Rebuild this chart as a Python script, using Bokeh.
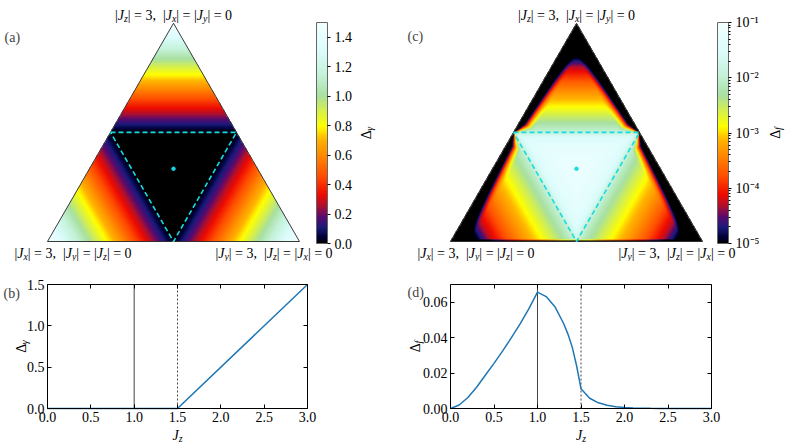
import math
import numpy as np
from bokeh.plotting import figure
from bokeh.layouts import column, row
from bokeh.models import (LinearColorMapper, LogColorMapper, ColorBar, FixedTicker,
                          PrintfTickFormatter, CustomJSTickFormatter, Label,
                          Range1d, LinearAxis)
from bokeh.embed import file_html
from bokeh.resources import INLINE

# ---------------- data ----------------
# panel (b): Delta_gamma along the |Jx| = |Jy| line
jz_b = [0.0, 1.5, 3.0]
dgamma_b = [0.0, 0.0, 1.5]
# panel (d): Delta_f along the |Jx| = |Jy| line
jz_d = [0.0, 0.1, 0.2, 0.3, 0.4, 0.5, 0.6, 0.7, 0.8, 0.9, 1.0, 1.1, 1.2, 1.3, 1.35,
        1.4, 1.45, 1.5, 1.6, 1.7, 1.8, 1.9, 2.0, 2.1, 2.2, 2.3, 2.4, 2.5, 2.6, 2.8, 3.0]
df_d = [0.0, 0.0020, 0.0062, 0.0120, 0.0188, 0.0255, 0.0325, 0.0400, 0.0478, 0.0562, 0.0657,
        0.0632, 0.0575, 0.048, 0.042, 0.0345, 0.024, 0.0112, 0.0058, 0.0032, 0.0018, 0.0010,
        0.0006, 0.00035, 0.0002, 0.0001, 0.00005, 0.000016, 0.000004, 0.0000002, 0.0]
crit_lines = [1.0, 1.5]
crit_dash = ["solid", "2 2"]
x_ticks = [0.0, 0.5, 1.0, 1.5, 2.0, 2.5, 3.0]
b_yticks = [0.0, 0.5, 1.0, 1.5]
d_yticks = [0.0, 0.02, 0.04, 0.06]
cb_a_ticks = [0.0, 0.2, 0.4, 0.6, 0.8, 1.0, 1.2, 1.4]
cb_c_ticks = [1e-5, 1e-4, 1e-3, 1e-2, 1e-1]
cb_c_minor = [k * 10.0 ** e for e in range(-5, -1) for k in range(2, 10)]
total_J = 3.0

# ---------------- style ----------------
FONT = "Liberation Serif"
PX = 84.0            # screen px per J unit in the triangles
TOP_H = 261
BOT_H = 183
TRI_BOTTOM = 20.0    # px from the bottom of the top row to the triangle base
CYAN = "#16dbe3"
BLUE = "#1f77b4"
EDGE_W = 0.236       # width (in J) of the dark band along the side edges in (c)
BOT_W = 0.03
XY_STRETCH = 0.88    # slower fall-off of (c) towards the two lower corners

cmap_pos = [0.0, 0.03, 0.07, 0.12, 0.17, 0.22, 0.30, 0.40, 0.47, 0.53, 0.60, 0.67, 0.76, 0.87, 1.0]
cmap_hex = ["#000000", "#00003c", "#1a1a7a", "#5a0a6e", "#b0102c", "#ee0a00", "#ff4a00",
            "#ff8a00", "#ffb400", "#ffff00", "#d6f04c", "#a8e0a0", "#c4f2d8", "#dcfcfc", "#f2ffff"]


def hex2rgb(h):
    return [int(h[i:i + 2], 16) for i in (1, 3, 5)]


rgb = np.array([hex2rgb(h) for h in cmap_hex], dtype=float)
tt = np.linspace(0, 1, 256)
PAL = ["#%02x%02x%02x" % tuple(int(round(np.interp(t, cmap_pos, rgb[:, c]))) for c in range(3))
       for t in tt]

# ---------------- text helpers ----------------
REG = {' ': 0.25, '|': 0.2, '=': 0.564, ',': 0.25, '.': 0.25, '(': 0.333, ')': 0.333,
       'a': 0.444, 'b': 0.5, 'c': 0.444, 'd': 0.5, 'Δ': 0.612}
ITA = {'J': 0.444, 'x': 0.444, 'y': 0.444, 'z': 0.389, 'f': 0.278, 'γ': 0.41}


def text_width(s, size, italic):
    tab = ITA if italic else REG
    return sum(tab.get(ch, 0.5) for ch in s) * size


def rich(p, x, y, pieces, size=14.0, align="center", angle=0.0, dx=0.0, dy=0.0):
    sub_size = size * 0.7
    drop = size * 0.2
    widths = [text_width(t, sub_size if sub else size, it) for t, it, sub in pieces]
    total = sum(widths)
    pos = {"left": 0.0, "center": -total / 2, "right": -total}[align]
    for (t, it, sub), w in zip(pieces, widths):
        fs = sub_size if sub else size
        lead = len(t) - len(t.lstrip(" "))
        s = t.strip(" ")
        adv = pos + lead * 0.25 * fs
        d = drop if sub else 0.0
        if angle == 0:
            xo, yo = dx + adv, dy - d
        else:
            xo, yo = dx + d, dy + adv
        p.add_layout(Label(x=x, y=y, x_offset=xo, y_offset=yo, text=s, angle=angle,
                           text_font=FONT, text_font_size="%.1fpx" % fs,
                           text_font_style="italic" if it else "normal",
                           text_color="black", text_align="left", text_baseline="alphabetic"))
        pos += w


def jlabel(a, b, c):
    # |J_a| = 3,  |J_b| = |J_c| = 0
    return [("|", 0, 0), ("J", 1, 0), (a, 1, 1), ("| = 3,", 0, 0), ("  |", 0, 0), ("J", 1, 0),
            (b, 1, 1), ("| = |", 0, 0), ("J", 1, 0), (c, 1, 1), ("| = 0", 0, 0)]


# ---------------- triangle fields ----------------
H = total_J * math.sqrt(3) / 2
NX, NY = 252, 218
gx = (np.arange(NX) + 0.5) / NX * total_J
gy = (np.arange(NY) + 0.5) / NY * H
X, Y = np.meshgrid(gx, gy)
Jz = Y / (H / total_J)
Jy = X - Jz / 2
Jx = total_J - Jy - Jz
inside = (Jx >= 0) & (Jy >= 0) & (Jz >= 0)
sortedJ = np.sort(np.stack([Jx, Jy, Jz]), axis=0)
Jmid = sortedJ[1]
Jmax = sortedJ[2]

gam = np.interp(Jmax, jz_b, dgamma_b)
gam[~inside] = np.nan

log_df = np.log10(np.maximum(np.array(df_d), 1e-9))
z_dom = Jz >= np.maximum(Jx, Jy)
J_eff = np.where(z_dom | (Jmax <= 1.5), Jmax, 1.5 + (Jmax - 1.5) * XY_STRETCH)
base = 10 ** np.interp(J_eff, jz_d, log_df)
m_side = np.minimum(Jx, Jy)
w_side = EDGE_W * np.clip(0.15 + (Jmax - Jmid) / 0.35, 0.0, 1.0)
s_side = 10 ** (-6 * np.clip(1 - m_side / w_side, 0, 1) ** 2)
s_bot = 10 ** (-6 * np.clip(1 - Jz / BOT_W, 0, 1) ** 2)
flux = np.maximum(base * s_side * s_bot, 1e-9)
flux[~inside] = np.nan


def bary(jx, jy, jz):
    return jy + jz / 2, jz * H / total_J


def tri_fig(width, left_px, letter, letter_dx, letter_base, field, mapper, ticker, formatter,
            cb_x, cb_lab_dx, cb_label, minor=False):
    x0 = -left_px / PX
    y0 = -TRI_BOTTOM / PX
    p = figure(width=width, height=TOP_H, x_range=Range1d(x0, x0 + width / PX),
               y_range=Range1d(y0, y0 + TOP_H / PX), output_backend="svg",
               toolbar_location=None, min_border=0, x_axis_location=None,
               y_axis_location=None, outline_line_color=None)
    p.xgrid.visible = False
    p.ygrid.visible = False
    p.image(image=[field], x=0, y=0, dw=total_J, dh=H, color_mapper=mapper)
    vs = [bary(3, 0, 0), bary(0, 3, 0), bary(0, 0, 3)]
    p.patch([v[0] for v in vs], [v[1] for v in vs], fill_alpha=0, line_color="#222222",
            line_width=0.9)
    mids = [bary(1.5, 0, 1.5), bary(0, 1.5, 1.5), bary(1.5, 1.5, 0), bary(1.5, 0, 1.5)]
    p.line([m[0] for m in mids], [m[1] for m in mids], line_color=CYAN, line_width=1.6,
           line_dash="5 3")
    cx, cy = bary(1, 1, 1)
    p.scatter([cx], [cy], size=3.5, color=CYAN)
    tx, ty = bary(0, 0, 3)
    rich(p, tx, ty, jlabel("z", "x", "y"), dy=8)
    lx, ly = bary(3, 0, 0)
    rich(p, lx, ly, jlabel("x", "y", "z"), dx=25.5, dy=-12)
    rx, ry = bary(0, 3, 0)
    rich(p, rx, ry, jlabel("y", "z", "x"), dx=-25.5, dy=-12)
    p.add_layout(Label(x=x0, y=y0 + TOP_H / PX, x_offset=letter_dx, y_offset=-letter_base,
                       text=letter, text_font=FONT, text_font_size="14px",
                       text_baseline="alphabetic"))
    cb_y = TRI_BOTTOM - 2
    cb = ColorBar(color_mapper=mapper, ticker=ticker, formatter=formatter,
                  location=(cb_x, cb_y), width=11, height=221, padding=0, margin=0,
                  major_label_text_font=FONT, major_label_text_font_size="14px",
                  major_label_text_color="black", label_standoff=4,
                  major_tick_in=0, major_tick_out=3, major_tick_line_color="black",
                  minor_tick_in=0, minor_tick_out=2 if minor else 0,
                  minor_tick_line_color="black" if minor else None,
                  bar_line_color="#666666", border_line_color=None, background_fill_alpha=0)
    p.add_layout(cb)
    lab_x = x0 + (cb_x + cb_lab_dx) / PX
    lab_y = y0 + (cb_y + 110.5) / PX
    rich(p, lab_x, lab_y, cb_label, angle=math.pi / 2)
    return p


mapper_a = LinearColorMapper(palette=PAL, low=0.0, high=1.5, nan_color=(0, 0, 0, 0))
mapper_c = LogColorMapper(palette=PAL, low=1e-5, high=1e-1, nan_color=(0, 0, 0, 0),
                          low_color=PAL[0])

pa = tri_fig(400, 47, "(a)", 4, 37, gam, mapper_a, FixedTicker(ticks=cb_a_ticks),
             PrintfTickFormatter(format="%.1f"), 316, 50, [("Δ", 0, 0), ("γ", 1, 1)])
sup_js = """
const sup = {"-":"\u207b","0":"\u2070","1":"\u00b9","2":"\u00b2","3":"\u00b3","4":"\u2074",
             "5":"\u2075","6":"\u2076","7":"\u2077","8":"\u2078","9":"\u2079"};
const e = Math.round(Math.log10(tick));
return "10" + String(e).split("").map(c => sup[c]).join("");
"""
pc = tri_fig(389, 50, "(c)", 7, 36, flux, mapper_c,
             FixedTicker(ticks=cb_c_ticks, minor_ticks=cb_c_minor),
             CustomJSTickFormatter(code=sup_js), 317, 58, [("Δ", 0, 0), ("f", 1, 1)], minor=True)


# ---------------- line panels ----------------
def line_fig(width, left_px, plot_w, ymax, yticks, yfmt, xs, ys, letter, letter_dx, letter_dy,
             ylab, ylab_dx):
    sx = plot_w / 3.0
    sy = 124.0 / ymax
    xs0 = -left_px / sx
    ys0 = -36.0 / sy
    p = figure(width=width, height=BOT_H, x_range=Range1d(xs0, xs0 + width / sx),
               y_range=Range1d(ys0, ys0 + BOT_H / sy), output_backend="svg",
               toolbar_location=None, min_border=0, x_axis_location=None,
               y_axis_location=None, outline_line_color=None)
    p.xgrid.visible = False
    p.ygrid.visible = False
    hidden = CustomJSTickFormatter(code="return '';")
    specs = [("below", 0.0, x_ticks, PrintfTickFormatter(format="%.1f"), (0, 3.0), True),
             ("left", 0.0, yticks, PrintfTickFormatter(format=yfmt), (0, ymax), True),
             ("above", ymax, x_ticks, hidden, (0, 3.0), False),
             ("right", 3.0, yticks, hidden, (0, ymax), False)]
    for loc, fixed, ticks, fmt, bounds, show in specs:
        ax = LinearAxis(ticker=FixedTicker(ticks=ticks), formatter=fmt, fixed_location=fixed,
                        bounds=bounds, major_tick_in=4, major_tick_out=0,
                        major_tick_line_color="black", minor_tick_line_color=None,
                        axis_line_color="black", axis_line_width=1,
                        major_label_text_font=FONT,
                        major_label_text_font_size="14px" if show else "0px",
                        major_label_text_color="black",
                        major_label_standoff=3 if show else 0)
        p.add_layout(ax, loc)
    for loc, dash in zip(crit_lines, crit_dash):
        p.segment(x0=[loc], y0=[0], x1=[loc], y1=[ymax], line_color="#444444",
                  line_width=1, line_dash=dash)
    p.line(xs, ys, line_color=BLUE, line_width=1.5)
    rich(p, 1.5, 0, [("J", 1, 0), ("z", 1, 1)], dy=-27)
    rich(p, 0, ymax / 2, ylab, angle=math.pi / 2, dx=ylab_dx)
    p.add_layout(Label(x=0, y=ymax, x_offset=letter_dx, y_offset=letter_dy, text=letter,
                       text_font=FONT, text_font_size="14px", text_baseline="alphabetic"))
    return p


pb = line_fig(400, 47, 260, 1.5, b_yticks, "%.1f", jz_b, dgamma_b, "(b)", -44, -9,
              [("Δ", 0, 0), ("γ", 1, 1)], -26)
pd = line_fig(389, 50, 261, 0.07, d_yticks, "%.2f", jz_d, df_d, "(d)", -43, -8,
              [("Δ", 0, 0), ("f", 1, 1)], -35)

layout = column(row(pa, pc), row(pb, pd))
open("out.html", "w").write(file_html(layout, INLINE))
